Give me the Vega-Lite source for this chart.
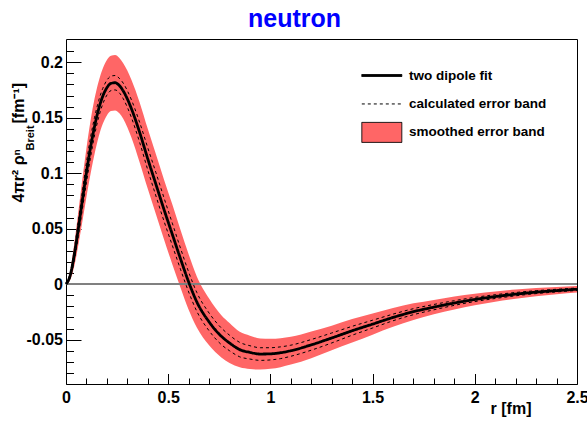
{
  "$schema": "https://vega.github.io/schema/vega-lite/v6.json",
  "width": 511,
  "height": 345,
  "autosize": {"type": "none"},
  "padding": {"left": 66, "top": 39, "right": 10, "bottom": 37},
  "background": "white",
  "title": {
    "text": "neutron",
    "anchor": "middle",
    "frame": "group",
    "dx": -27,
    "dy": 23.5,
    "offset": 11,
    "baseline": "alphabetic",
    "font": "Liberation Sans",
    "fontSize": 25,
    "fontWeight": "bold",
    "color": "#0000ff"
  },
  "data": {
    "values": [
      {"r": 0.00, "fit": 0.0, "lo": 0.0, "hi": 0.0, "dlo": 0.0, "dhi": 0.0},
      {"r": 0.02, "fit": 0.0076, "lo": 0.0036, "hi": 0.0116, "dlo": 0.0056, "dhi": 0.0096},
      {"r": 0.04, "fit": 0.0259, "lo": 0.0159, "hi": 0.0359, "dlo": 0.0209, "dhi": 0.0309},
      {"r": 0.06, "fit": 0.0498, "lo": 0.0348, "hi": 0.0648, "dlo": 0.0428, "dhi": 0.0568},
      {"r": 0.08, "fit": 0.0755, "lo": 0.0565, "hi": 0.0945, "dlo": 0.0675, "dhi": 0.0835},
      {"r": 0.10, "fit": 0.1005, "lo": 0.0785, "hi": 0.1225, "dlo": 0.0915, "dhi": 0.1095},
      {"r": 0.12, "fit": 0.1232, "lo": 0.0992, "hi": 0.1472, "dlo": 0.1142, "dhi": 0.1322},
      {"r": 0.14, "fit": 0.1425, "lo": 0.1175, "hi": 0.1675, "dlo": 0.1345, "dhi": 0.1505},
      {"r": 0.16, "fit": 0.158, "lo": 0.133, "hi": 0.183, "dlo": 0.1505, "dhi": 0.1655},
      {"r": 0.18, "fit": 0.1695, "lo": 0.1445, "hi": 0.1945, "dlo": 0.1625, "dhi": 0.1765},
      {"r": 0.20, "fit": 0.1771, "lo": 0.1521, "hi": 0.2021, "dlo": 0.1704, "dhi": 0.1838},
      {"r": 0.22, "fit": 0.181, "lo": 0.156, "hi": 0.206, "dlo": 0.1745, "dhi": 0.1875},
      {"r": 0.24, "fit": 0.1816, "lo": 0.1566, "hi": 0.2066, "dlo": 0.1751, "dhi": 0.1881},
      {"r": 0.26, "fit": 0.1792, "lo": 0.1542, "hi": 0.2042, "dlo": 0.1727, "dhi": 0.1857},
      {"r": 0.28, "fit": 0.1742, "lo": 0.1492, "hi": 0.1992, "dlo": 0.1672, "dhi": 0.1812},
      {"r": 0.30, "fit": 0.167, "lo": 0.1415, "hi": 0.1925, "dlo": 0.1595, "dhi": 0.1745},
      {"r": 0.32, "fit": 0.1582, "lo": 0.1322, "hi": 0.1842, "dlo": 0.1502, "dhi": 0.1662},
      {"r": 0.36, "fit": 0.137, "lo": 0.110, "hi": 0.164, "dlo": 0.128, "dhi": 0.146},
      {"r": 0.40, "fit": 0.113, "lo": 0.086, "hi": 0.140, "dlo": 0.103, "dhi": 0.123},
      {"r": 0.44, "fit": 0.090, "lo": 0.063, "hi": 0.117, "dlo": 0.0795, "dhi": 0.1005},
      {"r": 0.48, "fit": 0.067, "lo": 0.040, "hi": 0.094, "dlo": 0.0565, "dhi": 0.0775},
      {"r": 0.52, "fit": 0.045, "lo": 0.018, "hi": 0.072, "dlo": 0.035, "dhi": 0.055},
      {"r": 0.56, "fit": 0.023, "lo": -0.003, "hi": 0.049, "dlo": 0.0135, "dhi": 0.0325},
      {"r": 0.60, "fit": 0.002, "lo": -0.023, "hi": 0.027, "dlo": -0.007, "dhi": 0.011},
      {"r": 0.64, "fit": -0.016, "lo": -0.039, "hi": 0.007, "dlo": -0.0245, "dhi": -0.0075},
      {"r": 0.70, "fit": -0.034, "lo": -0.055, "hi": -0.013, "dlo": -0.042, "dhi": -0.026},
      {"r": 0.76, "fit": -0.047, "lo": -0.066, "hi": -0.028, "dlo": -0.0545, "dhi": -0.0395},
      {"r": 0.80, "fit": -0.053, "lo": -0.071, "hi": -0.035, "dlo": -0.060, "dhi": -0.046},
      {"r": 0.85, "fit": -0.059, "lo": -0.075, "hi": -0.043, "dlo": -0.0655, "dhi": -0.0525},
      {"r": 0.90, "fit": -0.0615, "lo": -0.0765, "hi": -0.0465, "dlo": -0.0675, "dhi": -0.0555},
      {"r": 0.95, "fit": -0.063, "lo": -0.077, "hi": -0.049, "dlo": -0.0687, "dhi": -0.0573},
      {"r": 1.00, "fit": -0.0628, "lo": -0.0763, "hi": -0.0493, "dlo": -0.0683, "dhi": -0.0573},
      {"r": 1.05, "fit": -0.0618, "lo": -0.0748, "hi": -0.0488, "dlo": -0.0671, "dhi": -0.0565},
      {"r": 1.10, "fit": -0.060, "lo": -0.0725, "hi": -0.0475, "dlo": -0.065, "dhi": -0.055},
      {"r": 1.20, "fit": -0.0547, "lo": -0.0667, "hi": -0.0427, "dlo": -0.0595, "dhi": -0.0499},
      {"r": 1.30, "fit": -0.0485, "lo": -0.0595, "hi": -0.0375, "dlo": -0.053, "dhi": -0.044},
      {"r": 1.40, "fit": -0.042, "lo": -0.0525, "hi": -0.0315, "dlo": -0.046, "dhi": -0.038},
      {"r": 1.50, "fit": -0.036, "lo": -0.0455, "hi": -0.0265, "dlo": -0.0395, "dhi": -0.0325},
      {"r": 1.60, "fit": -0.030, "lo": -0.0385, "hi": -0.0215, "dlo": -0.033, "dhi": -0.027},
      {"r": 1.70, "fit": -0.0248, "lo": -0.0323, "hi": -0.0173, "dlo": -0.0275, "dhi": -0.0221},
      {"r": 1.80, "fit": -0.0207, "lo": -0.0272, "hi": -0.0142, "dlo": -0.0231, "dhi": -0.0183},
      {"r": 1.90, "fit": -0.017, "lo": -0.0228, "hi": -0.0112, "dlo": -0.0191, "dhi": -0.0149},
      {"r": 2.00, "fit": -0.0138, "lo": -0.019, "hi": -0.0086, "dlo": -0.0157, "dhi": -0.0119},
      {"r": 2.10, "fit": -0.0112, "lo": -0.0158, "hi": -0.0066, "dlo": -0.0129, "dhi": -0.0095},
      {"r": 2.20, "fit": -0.009, "lo": -0.0131, "hi": -0.0049, "dlo": -0.0105, "dhi": -0.0075},
      {"r": 2.30, "fit": -0.0072, "lo": -0.0109, "hi": -0.0035, "dlo": -0.0085, "dhi": -0.0059},
      {"r": 2.40, "fit": -0.0058, "lo": -0.0091, "hi": -0.0025, "dlo": -0.007, "dhi": -0.0046},
      {"r": 2.50, "fit": -0.0046, "lo": -0.0076, "hi": -0.0016, "dlo": -0.0057, "dhi": -0.0035}
    ]
  },
  "resolve": {"axis": {"x": "independent", "y": "independent"}},
  "layer": [
    {
      "mark": {"type": "area", "interpolate": "monotone", "opacity": 1},
      "encoding": {
        "x": {
          "field": "r", "type": "quantitative",
          "scale": {"domain": [0, 2.5], "nice": false, "zero": false},
          "axis": {
            "orient": "bottom",
            "values": [0, 0.5, 1, 1.5, 2, 2.5],
            "labelExpr": "'' + datum.value",
            "tickSize": -10.5, "tickWidth": 1,
            "labelPadding": 15.5, "labelFontSize": 16, "labelFlush": false, "labelOverlap": false, "labelBound": false,
            "title": "r [fm]", "titleFontSize": 16, "titleX": 465, "titleY": 29,
            "titleAlign": "right", "titleBaseline": "alphabetic", "titleAngle": 0
          }
        },
        "y": {
          "field": "lo", "type": "quantitative",
          "scale": {"domain": [-0.09, 0.221], "nice": false, "zero": false},
          "axis": {
            "orient": "left",
            "values": [-0.05, 0, 0.05, 0.1, 0.15, 0.2],
            "labelExpr": "'' + datum.value",
            "tickSize": -15, "tickWidth": 1,
            "labelPadding": 18.5, "labelFontSize": 16, "labelFlush": false, "labelOverlap": false, "labelBound": false,
            "title": "4πr² ρⁿ", "titleFontSize": 16, "titleX": -42.5, "titleY": 163,
            "titleAngle": 270, "titleAlign": "left", "titleBaseline": "alphabetic"
          }
        },
        "y2": {"field": "hi"},
        "color": {
          "datum": "smoothed error band", "type": "nominal",
          "scale": {
            "domain": ["two dipole fit", "calculated error band", "smoothed error band"],
            "range": ["#000000", "#000000", "#ff6666"]
          },
          "legend": {
            "orient": "none", "legendX": 305.3, "legendY": 26, "title": null,
            "padding": 0, "rowPadding": 3.45, "symbolSize": 400, "symbolStrokeWidth": 1,
            "symbolOffset": 0, "labelOffset": 16.7, "symbolOpacity": 1,
            "labelFont": "Liberation Sans", "labelFontWeight": "bold", "labelFontSize": 13.5, "labelColor": "black"
          }
        }
      }
    },
    {
      "mark": {"type": "rule", "color": "#808080", "strokeWidth": 1},
      "encoding": {
        "y": {"datum": 0, "type": "quantitative", "axis": null}
      }
    },
    {
      "mark": {"type": "line", "interpolate": "monotone", "strokeWidth": 1},
      "encoding": {
        "x": {
          "field": "r", "type": "quantitative",
          "axis": {
            "orient": "bottom",
            "values": [0.1, 0.2, 0.3, 0.4, 0.6, 0.7, 0.8, 0.9, 1.1, 1.2, 1.3, 1.4, 1.6, 1.7, 1.8, 1.9, 2.1, 2.2, 2.3, 2.4],
            "tickSize": -6, "tickWidth": 1, "labels": false, "title": null
          }
        },
        "y": {
          "field": "dlo", "type": "quantitative",
          "axis": {
            "orient": "left",
            "values": [-0.08, -0.07, -0.06, -0.04, -0.03, -0.02, -0.01, 0.01, 0.02, 0.03, 0.04, 0.06, 0.07, 0.08, 0.09, 0.11, 0.12, 0.13, 0.14, 0.16, 0.17, 0.18, 0.19, 0.21],
            "tickSize": -7.5, "tickWidth": 1, "labels": false,
            "title": "Breit", "titleFontSize": 11, "titleX": -33, "titleY": 111,
            "titleAngle": 270, "titleAlign": "left", "titleBaseline": "alphabetic"
          }
        },
        "stroke": {
          "datum": "calculated error band", "type": "nominal",
          "scale": {
            "domain": ["two dipole fit", "calculated error band", "smoothed error band"],
            "range": ["#000000", "#000000", "#000000"]
          }
        },
        "strokeDash": {
          "datum": "calculated error band", "type": "nominal",
          "scale": {
            "domain": ["two dipole fit", "calculated error band", "smoothed error band"],
            "range": [[1, 0], [3, 3], [1, 0]]
          }
        }
      }
    },
    {
      "mark": {"type": "line", "interpolate": "monotone", "strokeWidth": 1},
      "encoding": {
        "x": {"field": "r", "type": "quantitative", "axis": null},
        "y": {
          "field": "dhi", "type": "quantitative",
          "axis": {
            "orient": "left", "ticks": false, "labels": false,
            "title": "[fm⁻¹]", "titleFontSize": 16, "titleX": -42.5, "titleY": 84,
            "titleAngle": 270, "titleAlign": "left", "titleBaseline": "alphabetic"
          }
        },
        "stroke": {"datum": "calculated error band", "type": "nominal"},
        "strokeDash": {"datum": "calculated error band", "type": "nominal"}
      }
    },
    {
      "mark": {"type": "line", "interpolate": "monotone", "strokeWidth": 2.8},
      "encoding": {
        "x": {"field": "r", "type": "quantitative", "axis": null},
        "y": {"field": "fit", "type": "quantitative", "axis": null},
        "stroke": {"datum": "two dipole fit", "type": "nominal"},
        "strokeDash": {"datum": "two dipole fit", "type": "nominal"}
      }
    },
    {
      "mark": {"type": "point", "size": 0, "opacity": 0, "filled": true},
      "encoding": {
        "x": {"field": "r", "type": "quantitative", "axis": null},
        "y": {"field": "fit", "type": "quantitative", "axis": null},
        "shape": {
          "datum": "two dipole fit", "type": "nominal",
          "scale": {
            "domain": ["two dipole fit", "calculated error band", "smoothed error band"],
            "range": ["M-2,-1M-2,-0.1H2V0.1H-2ZM2,1", "M-2,-1M-2,0H2M2,1", "M-2,-1H2V1H-2Z"]
          }
        }
      }
    }
  ],
  "config": {
    "view": {"stroke": "#000000", "strokeWidth": 1},
    "legend": {"symbolOpacity": 1, "symbolSize": 400, "symbolStrokeWidth": 1},
    "axis": {
      "grid": false, "domain": false,
      "tickColor": "#000000", "labelColor": "#000000", "titleColor": "#000000",
      "labelFont": "Liberation Sans", "titleFont": "Liberation Sans",
      "labelFontWeight": "bold", "titleFontWeight": "bold"
    }
  }
}
